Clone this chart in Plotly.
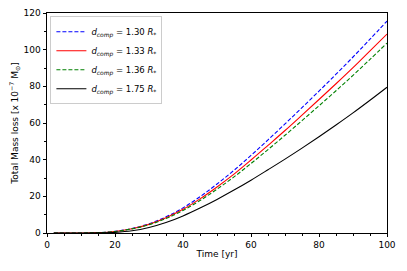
import plotly.graph_objects as go

time_yr = [2, 5, 10, 15, 20, 25, 30, 35, 40, 45, 50, 55, 60, 65, 70, 75, 80, 85, 90, 95, 100]
mass_130 = [0, 0, 0.02, 0.2, 0.9, 2.5, 5.0, 8.8, 13.7, 19.8, 26.7, 34.2, 42.3, 50.8, 59.5, 68.4, 77.4, 86.6, 96.0, 105.7, 115.6]
mass_133 = [0, 0, 0.02, 0.19, 0.85, 2.35, 4.7, 8.3, 12.9, 18.6, 25.1, 32.1, 39.8, 47.8, 55.9, 64.3, 72.8, 81.4, 90.2, 99.4, 108.5]
mass_136 = [0, 0, 0.02, 0.18, 0.8, 2.25, 4.5, 7.9, 12.3, 17.7, 23.9, 30.6, 37.9, 45.5, 53.3, 61.3, 69.4, 77.6, 86.0, 94.7, 103.6]
mass_175 = [0, 0, 0, 0.05, 0.35, 1.2, 3.0, 5.7, 9.3, 13.6, 18.3, 23.4, 28.8, 34.5, 40.3, 46.3, 52.5, 58.9, 65.5, 72.4, 79.5]

labels = ["1.30", "1.33", "1.36", "1.75"]
series = [mass_130, mass_133, mass_136, mass_175]
colors = ["#0000ff", "#ff0000", "#008000", "#000000"]
dashes = ["4px,2px", "solid", "4px,2px", "solid"]

fig = go.Figure()
for lab, ys, c, d in zip(labels, series, colors, dashes):
    fig.add_trace(go.Scatter(
        x=time_yr, y=ys, mode="lines",
        line=dict(color=c, width=1.1, dash=d, shape="spline"),
        name=f"<i>d</i><sub><i>comp</i></sub> = {lab} <i>R</i><sub>*</sub>",
    ))

axis_common = dict(
    showline=True, linecolor="#000000", linewidth=0.8, mirror=True,
    ticks="outside", ticklen=3.5, tickwidth=0.8, tickcolor="#000000",
    showgrid=False, zeroline=False, automargin=False,
    tickfont=dict(family="DejaVu Sans", size=9, color="#000000"),
)

fig.update_layout(
    width=407, height=271,
    margin=dict(l=39, r=28, t=5, b=46, autoexpand=False),
    paper_bgcolor="white", plot_bgcolor="white",
    font=dict(family="DejaVu Sans", size=9, color="#000000"),
    xaxis=dict(range=[0, 100], dtick=20, tick0=0,
               title=dict(text="Time [yr]", font=dict(size=9), standoff=1),
               minor=dict(dtick=5, ticks="outside", ticklen=2, tickwidth=0.6, tickcolor="#000000"),
               **axis_common),
    yaxis=dict(range=[0, 120], dtick=20, tick0=0,
               title=dict(text="Total Mass loss [x 10<sup>\u22127</sup> M<sub>\u2299</sub>]", font=dict(size=9), standoff=5),
               minor=dict(dtick=10, ticks="outside", ticklen=2, tickwidth=0.6, tickcolor="#000000"),
               **axis_common),
    legend=dict(x=0.01, y=0.985, xanchor="left", yanchor="top",
                bgcolor="rgba(255,255,255,0.8)", bordercolor="#cccccc", borderwidth=1,
                font=dict(family="DejaVu Sans", size=8.5),
                itemwidth=30, tracegroupgap=0),
    showlegend=True,
)

fig.write_html("out.html")
